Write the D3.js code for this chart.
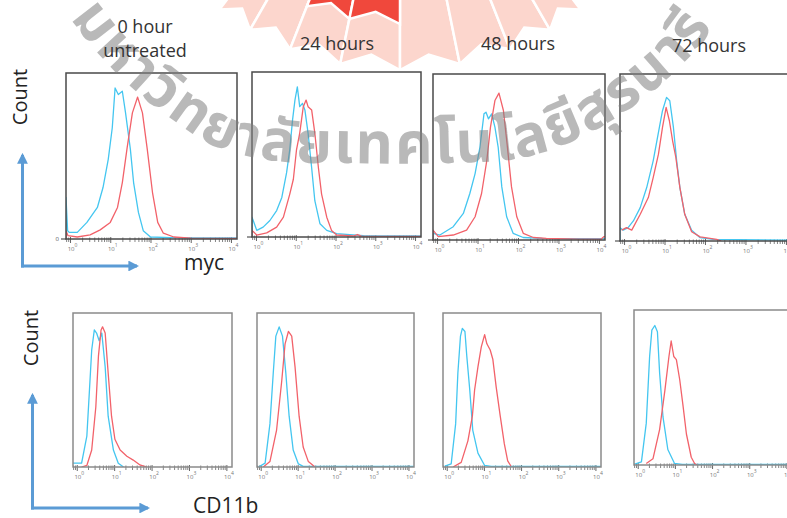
<!DOCTYPE html>
<html><head><meta charset="utf-8">
<script src="https://cdn.jsdelivr.net/npm/d3@7"></script>
<style>body{margin:0;background:#fff}svg{display:block}</style>
</head><body>
<svg id="c" width="787" height="518"></svg>
<script>
// ---------------- data ----------------
const timeLabels = [["0 hour", "untreated"], ["24 hours"], ["48 hours"], ["72 hours"]];
const markerLabels = ["myc", "CD11b"];
const countLabel = "Count";
const decadeExponents = [0, 1, 2, 3, 4];
const watermarkText = "มหาวิทยาลัยเทคโนโลยีสุรนารี";

// each point: [log10 fluorescence, relative count]
const mycBlue0h = [[-0.1,0],[-0.1,0.25],[-0.06,0.05],[-0.02,0.04],[0.18,0.04],[0.42,0.1],[0.68,0.19],[0.82,0.31],[0.95,0.48],[1.05,0.67],[1.12,0.91],[1.2,0.87],[1.3,0.89],[1.38,0.76],[1.5,0.54],[1.58,0.34],[1.7,0.16],[1.82,0.05],[2.0,0.012],[2.5,0.008],[3.0,0.006],[4.15,0.006]];
const mycRed0h = [[-0.1,0],[-0.1,0.05],[-0.05,0.02],[0.18,0.012],[0.5,0.025],[0.75,0.055],[1.0,0.1],[1.18,0.19],[1.3,0.34],[1.42,0.55],[1.55,0.76],[1.68,0.855],[1.8,0.76],[1.92,0.54],[2.05,0.28],[2.18,0.1],[2.32,0.035],[2.58,0.012],[3.0,0.005],[4.15,0.004]];
const mycBlue24h = [[-0.1,0],[-0.1,0.12],[0.02,0.04],[0.18,0.06],[0.35,0.1],[0.52,0.16],[0.65,0.24],[0.77,0.39],[0.85,0.53],[0.92,0.71],[0.98,0.83],[1.04,0.91],[1.1,0.79],[1.17,0.81],[1.23,0.77],[1.31,0.63],[1.4,0.42],[1.48,0.22],[1.61,0.08],[1.78,0.04],[2.03,0.02],[2.36,0.015],[2.7,0.008],[4.15,0.006]];
const mycRed24h = [[-0.1,0],[-0.1,0.04],[0.02,0.012],[0.27,0.025],[0.52,0.06],[0.69,0.12],[0.85,0.26],[0.94,0.35],[1.02,0.53],[1.1,0.63],[1.19,0.79],[1.26,0.83],[1.31,0.79],[1.4,0.77],[1.48,0.63],[1.57,0.42],[1.65,0.26],[1.78,0.12],[1.9,0.04],[2.03,0.012],[2.45,0.006],[2.55,0.015],[2.65,0.005],[4.15,0.003]];
const mycBlue48h = [[-0.1,0],[-0.1,0.04],[0.07,0.03],[0.4,0.08],[0.65,0.16],[0.81,0.28],[0.94,0.4],[1.06,0.56],[1.16,0.76],[1.21,0.77],[1.27,0.73],[1.35,0.76],[1.43,0.68],[1.51,0.56],[1.6,0.32],[1.72,0.14],[1.88,0.04],[2.13,0.015],[2.6,0.01],[4.15,0.008]];
const mycRed48h = [[-0.1,0],[-0.1,0.06],[0.03,0.02],[0.4,0.03],[0.73,0.06],[0.94,0.14],[1.1,0.28],[1.23,0.48],[1.32,0.68],[1.43,0.84],[1.53,0.885],[1.64,0.78],[1.73,0.58],[1.84,0.32],[1.97,0.14],[2.13,0.04],[2.38,0.015],[2.7,0.01],[3.5,0.005],[4.05,0.005],[4.12,0.02],[4.15,0.02]];
const mycBlue72h = [[-0.1,0],[-0.1,0.08],[-0.02,0.065],[0.1,0.08],[0.23,0.12],[0.4,0.2],[0.56,0.32],[0.72,0.48],[0.85,0.65],[0.95,0.78],[1.05,0.86],[1.13,0.84],[1.22,0.68],[1.3,0.48],[1.38,0.32],[1.5,0.16],[1.67,0.065],[1.88,0.02],[2.2,0.01],[4.15,0.005]];
const mycRed72h = [[-0.06,0.065],[0.06,0.08],[0.19,0.065],[0.4,0.16],[0.6,0.26],[0.72,0.38],[0.85,0.52],[0.95,0.68],[1.04,0.8],[1.12,0.72],[1.2,0.6],[1.28,0.5],[1.38,0.32],[1.5,0.16],[1.67,0.055],[1.88,0.025],[2.29,0.01],[2.4,0]];

const cd11bBlue0h = [[-0.1,0.025],[0.13,0.025],[0.27,0.2],[0.34,0.5],[0.4,0.76],[0.47,0.89],[0.53,0.87],[0.6,0.82],[0.67,0.87],[0.76,0.65],[0.84,0.33],[0.98,0.11],[1.11,0.025],[1.25,0]];
const cd11bRed0h = [[0.13,0],[0.27,0.01],[0.4,0.11],[0.51,0.39],[0.58,0.72],[0.65,0.89],[0.69,0.91],[0.76,0.87],[0.84,0.61],[0.93,0.33],[1.02,0.18],[1.16,0.11],[1.34,0.07],[1.51,0.045],[1.69,0.013],[1.87,0]];
const cd11bBlue24h = [[-0.06,0],[0.12,0.025],[0.25,0.28],[0.34,0.61],[0.41,0.85],[0.5,0.91],[0.59,0.85],[0.68,0.61],[0.77,0.33],[0.88,0.11],[1.02,0.02],[1.15,0.004],[4.15,0.004]];
const cd11bRed24h = [[0.07,0],[0.25,0.035],[0.43,0.24],[0.57,0.56],[0.66,0.8],[0.75,0.88],[0.84,0.85],[0.93,0.65],[1.04,0.33],[1.15,0.13],[1.29,0.035],[1.47,0]];
const cd11bBlue48h = [[-0.05,0.005],[0.12,0.02],[0.24,0.28],[0.3,0.61],[0.37,0.85],[0.42,0.9],[0.49,0.88],[0.54,0.72],[0.62,0.5],[0.7,0.24],[0.84,0.09],[1.02,0.01],[1.2,0.004],[4.15,0.004]];
const cd11bRed48h = [[0.17,0],[0.39,0.03],[0.57,0.17],[0.69,0.33],[0.75,0.5],[0.84,0.65],[0.93,0.78],[1.02,0.86],[1.08,0.8],[1.17,0.76],[1.24,0.7],[1.33,0.52],[1.44,0.33],[1.55,0.15],[1.64,0.04],[1.73,0.005]];
const cd11bBlue72h = [[-0.08,0.006],[0.1,0.02],[0.23,0.27],[0.32,0.7],[0.38,0.87],[0.46,0.9],[0.53,0.86],[0.59,0.59],[0.68,0.31],[0.81,0.1],[0.99,0.01],[1.2,0.004],[4.15,0.004]];
const cd11bRed72h = [[0.23,0.01],[0.41,0.04],[0.59,0.23],[0.73,0.48],[0.84,0.7],[0.9,0.8],[0.97,0.7],[1.04,0.68],[1.13,0.55],[1.22,0.38],[1.31,0.2],[1.44,0.05],[1.53,0.01],[1.6,0]];

// ---------------- layout ----------------
const svg = d3.select("#c");
const BLUE = "#44c6f0", RED = "#f2626a", ARROW = "#5b9bd5";
const FONT = "'Open Sans', 'Noto Sans', sans-serif";
const defs = svg.append("defs");

const rows = [
  { boxes: [[66,73,171,166],[252,72,169,165],[433,74,172,166],[620,74,172,167]],
    series: [[mycBlue0h, mycRed0h],[mycBlue24h, mycRed24h],[mycBlue48h, mycRed48h],[mycBlue72h, mycRed72h]],
    frame: "#4a4a4a", zeroTick: true },
  { boxes: [[73,313,159,154],[257,313,157,154],[443,313,158,154],[634,310,158,155]],
    series: [[cd11bBlue0h, cd11bRed0h],[cd11bBlue24h, cd11bRed24h],[cd11bBlue48h, cd11bRed48h],[cd11bBlue72h, cd11bRed72h]],
    frame: "#8a8a8a", zeroTick: false }
];

// ---- logo (background sunburst) ----
const logo = svg.append("g");
const lc = [400, -230];
const rayEdges = [-37, -30, -21.5, -11.5, 0, 11.5, 21.5, 30, 37];
const pt = (r, a) => [lc[0] + r * Math.sin(a * Math.PI / 180), lc[1] + r * Math.cos(a * Math.PI / 180)];
for (let i = 0; i < rayEdges.length - 1; i++) {
  const a0 = rayEdges[i], a1 = rayEdges[i + 1], am = (a0 + a1) / 2;
  const poly = [lc, pt(300, a0), pt(286, am), pt(300, a1)];
  logo.append("path").attr("d", "M" + poly.join("L") + "Z")
    .attr("fill", "#fcd6cd").attr("stroke", "#fff").attr("stroke-width", 2.5);
}
for (let i = 2; i < 4; i++) {
  const a0 = rayEdges[i], a1 = rayEdges[i + 1], am = (a0 + a1) / 2;
  const poly = [lc, pt(254, a0), pt(243, am), pt(254, a1)];
  logo.append("path").attr("d", "M" + poly.join("L") + "Z")
    .attr("fill", "#f0483c").attr("stroke", "#fff").attr("stroke-width", 2.5);
}

// ---- panels ----
const lineGen = (x, y) => d3.line().x(d => x(Math.pow(10, d[0]))).y(d => y(d[1]));
const minorTicks = [];
for (let e = -1; e < 5; e++) for (let m = 2; m < 10; m++) {
  const v = m * Math.pow(10, e);
  if (v > Math.pow(10, -0.1) && v < Math.pow(10, 4.15)) minorTicks.push(v);
}
let clipId = 0;
rows.forEach((row, ri) => {
  row.boxes.forEach((b, pi) => {
    const [bx, by, bw, bh] = b;
    const x = d3.scaleLog().domain([Math.pow(10, -0.1), Math.pow(10, 4.15)]).range([bx, bx + bw]);
    const y = d3.scaleLinear().domain([0, 1]).range([by + bh, by]);
    const g = svg.append("g");
    const cid = "clip" + (clipId++);
    g.append("clipPath").attr("id", cid).append("rect")
      .attr("x", bx).attr("y", by - 2).attr("width", bw).attr("height", bh + 2);
    g.append("g").attr("transform", `translate(0,${by + bh})`)
      .call(d3.axisBottom(x).tickValues(minorTicks).tickSize(3).tickSizeOuter(0).tickFormat(""))
      .call(s => s.select(".domain").remove())
      .call(s => s.selectAll("line").attr("stroke", "#666").attr("stroke-width", 0.8).attr("y1", -1.5));
    const ax = g.append("g").attr("transform", `translate(0,${by + bh})`)
      .call(d3.axisBottom(x).tickValues(decadeExponents.map(e => Math.pow(10, e))).tickSize(4).tickSizeOuter(0).tickFormat(""))
      .call(s => s.select(".domain").remove());
    ax.selectAll("line").attr("stroke", "#555").attr("stroke-width", 0.9).attr("y1", -2);
    ax.selectAll(".tick").each(function (d, k) {
      const t = d3.select(this).append("text").attr("x", 2).attr("y", 12)
        .attr("fill", "#777").attr("font-family", FONT).attr("font-size", 6)
        .attr("text-anchor", "middle");
      t.append("tspan").text("10");
      t.append("tspan").attr("dy", -4).attr("font-size", 5).text(decadeExponents[k]);
    });
    const [blue, red] = row.series[pi];
    const lg = lineGen(x, y);
    g.append("path").attr("d", lg(blue)).attr("fill", "none").attr("stroke", BLUE)
      .attr("stroke-width", 1.3).attr("stroke-linejoin", "round").attr("clip-path", `url(#${cid})`);
    g.append("path").attr("d", lg(red)).attr("fill", "none").attr("stroke", RED)
      .attr("stroke-width", 1.3).attr("stroke-linejoin", "round").attr("clip-path", `url(#${cid})`);
    g.append("rect").attr("x", bx).attr("y", by).attr("width", bw).attr("height", bh)
      .attr("fill", "none").attr("stroke", row.frame).attr("stroke-width", 1.5);
    if (row.zeroTick) {
      g.append("line").attr("x1", bx - 5).attr("x2", bx).attr("y1", y(0)).attr("y2", y(0))
        .attr("stroke", "#333").attr("stroke-width", 1);
      if (pi === 0) g.append("text").attr("x", bx - 7).attr("y", y(0) + 2).attr("text-anchor", "end")
        .attr("font-family", FONT).attr("font-size", 6).attr("fill", "#555").text("0");
    }
  });
});

// ---- watermark ----
const wmPts = [[70,18],[95,50],[130,86],[170,118],[215,146],[270,160],[350,163],[440,163],[520,158],[575,140],[620,115],[660,85],[700,45],[725,8]];
const wmPath = defs.append("path").attr("id", "wmpath")
  .attr("d", d3.line().curve(d3.curveCatmullRom)(wmPts));
const wmLen = wmPath.node().getTotalLength();
svg.append("text").attr("font-family", "'Noto Sans Thai', 'Noto Sans', 'DejaVu Sans', sans-serif")
  .attr("font-size", 58).attr("font-weight", "bold").attr("fill", "#808080").attr("fill-opacity", 0.55)
  .append("textPath").attr("href", "#wmpath").attr("textLength", wmLen * 0.97)
  .attr("lengthAdjust", "spacing").text(watermarkText);

// ---- titles (over watermark) ----
const titleX = [145, 337, 518, 709];
const titleY = [[33, 57], [50], [50], [52]];
timeLabels.forEach((lines, i) => {
  lines.forEach((t, j) => {
    svg.append("text").attr("x", titleX[i]).attr("y", titleY[i][j])
      .attr("text-anchor", "middle").attr("font-family", FONT).attr("font-size", 18)
      .attr("fill", "#333").text(t);
  });
});

// ---- axis arrows and labels ----
defs.append("marker").attr("id", "arr").attr("viewBox", "0 0 10 10").attr("refX", 8).attr("refY", 5)
  .attr("markerWidth", 3.6).attr("markerHeight", 3.6).attr("orient", "auto")
  .append("path").attr("d", "M0,0L10,5L0,10Z").attr("fill", ARROW);
const arrows = [
  { ox: 22.5, oy: 266, top: 155, right: 137, countY: 97, countX: 27, marker: [184, 270] },
  { ox: 32.5, oy: 508, top: 395, right: 148, countY: 338, countX: 38, marker: [193, 513] }
];
arrows.forEach((a, i) => {
  svg.append("line").attr("x1", a.ox).attr("y1", a.oy + 1.5).attr("x2", a.ox).attr("y2", a.top)
    .attr("stroke", ARROW).attr("stroke-width", 3).attr("marker-end", "url(#arr)");
  svg.append("line").attr("x1", a.ox - 1.5).attr("y1", a.oy).attr("x2", a.right).attr("y2", a.oy)
    .attr("stroke", ARROW).attr("stroke-width", 3).attr("marker-end", "url(#arr)");
  svg.append("text").attr("transform", `translate(${a.countX},${a.countY}) rotate(-90)`)
    .attr("text-anchor", "middle").attr("font-family", FONT).attr("font-size", 20)
    .attr("fill", "#222").text(countLabel);
  svg.append("text").attr("x", a.marker[0]).attr("y", a.marker[1])
    .attr("font-family", FONT).attr("font-size", 21).attr("fill", "#222").text(markerLabels[i]);
});
</script>
</body></html>
